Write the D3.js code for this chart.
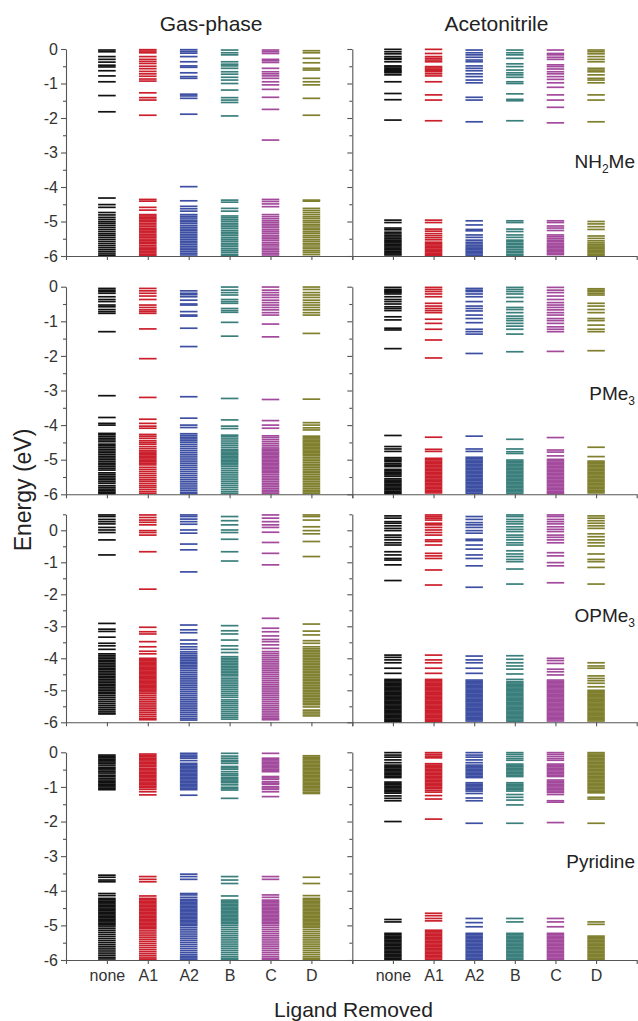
<!DOCTYPE html>
<html lang="en">
<head>
<meta charset="UTF-8">
<title>Energy levels by ligand removed</title>
<script src="https://d3js.org/d3.v7.min.js"></script>
<style>
    body { margin: 0; background: #fff; }
    svg { display: block; }
    text { font-family: "Liberation Sans", Arial, sans-serif; fill: #222; }
    .axis path, .axis line { stroke: #555; stroke-width: 1.1; }
    .axis text { font-size: 16px; fill: #333; }
</style>
</head>
<body>
<script>
// categories and series
const categories = ["none", "A1", "A2", "B", "C", "D"]
const lineColors = ["#111111", "#cc1f2c", "#3d4fa3", "#3a7f7c", "#a34a9d", "#7f7f2e"]
const phases = ["Gas-phase", "Acetonitrile"]
const ligands = [["NH", "2", "Me"], ["PMe", "3", ""], ["OPMe", "3", ""], ["Pyridine", "", ""]]
const yTops = [0, 0, 0.5, 0]

// energy levels (eV), one list per ligand removed: none, A1, A2, B, C, D
const gasNH2Me = [
    [-0.03,-0.08,-0.22,-0.30,-0.38,-0.47,-0.52,-0.63,-0.78,-0.95,-1.35,-1.82,
     -4.32,-4.51,-4.59,-4.74,-4.81,-4.88,-4.94,-5.00,-5.05,-5.11,-5.17,-5.23,-5.29,-5.35,-5.40,-5.46,-5.52,-5.58,-5.64,-5.70,-5.76,-5.82,-5.88,-5.94,-5.99],
    [-0.02,-0.06,-0.11,-0.22,-0.30,-0.36,-0.42,-0.50,-0.57,-0.65,-0.72,-0.79,-0.87,-0.93,-1.27,-1.41,-1.48,-1.92,
     -4.36,-4.41,-4.59,-4.67,-4.80,-4.84,-4.88,-4.92,-4.96,-5.00,-5.05,-5.10,-5.15,-5.20,-5.24,-5.28,-5.33,-5.38,-5.42,-5.46,-5.51,-5.56,-5.60,-5.64,-5.69,-5.74,-5.78,-5.82,-5.86,-5.91,-5.95,-5.99],
    [-0.02,-0.07,-0.12,-0.22,-0.37,-0.49,-0.53,-0.69,-0.80,-0.85,-1.31,-1.36,-1.43,-1.89,
     -3.99,-4.40,-4.56,-4.63,-4.70,-4.80,-4.85,-4.90,-4.96,-5.01,-5.06,-5.12,-5.17,-5.22,-5.27,-5.32,-5.37,-5.42,-5.47,-5.52,-5.57,-5.62,-5.67,-5.72,-5.77,-5.82,-5.87,-5.92,-5.97],
    [-0.03,-0.11,-0.17,-0.37,-0.44,-0.49,-0.56,-0.66,-0.73,-0.82,-0.90,-1.00,-1.19,-1.41,-1.48,-1.55,-1.94,
     -4.38,-4.44,-4.62,-4.70,-4.84,-4.89,-4.94,-4.99,-5.05,-5.10,-5.15,-5.20,-5.26,-5.31,-5.36,-5.41,-5.47,-5.52,-5.57,-5.63,-5.68,-5.73,-5.79,-5.84,-5.89,-5.95,-5.99],
    [-0.03,-0.08,-0.13,-0.30,-0.34,-0.39,-0.56,-0.66,-0.72,-0.78,-0.85,-0.95,-1.04,-1.17,-1.40,-1.75,-2.64,
     -4.36,-4.42,-4.49,-4.57,-4.80,-4.86,-4.92,-4.98,-5.03,-5.08,-5.13,-5.18,-5.24,-5.29,-5.34,-5.40,-5.45,-5.50,-5.55,-5.61,-5.66,-5.71,-5.77,-5.82,-5.87,-5.92,-5.97],
    [-0.05,-0.11,-0.27,-0.40,-0.56,-0.61,-0.85,-0.95,-1.04,-1.43,-1.92,
     -4.38,-4.41,-4.62,-4.68,-4.74,-4.80,-4.86,-4.91,-4.97,-5.02,-5.08,-5.13,-5.19,-5.24,-5.30,-5.35,-5.41,-5.46,-5.52,-5.57,-5.63,-5.68,-5.74,-5.79,-5.85,-5.90,-5.96]
]
const acnNH2Me = [
    [-0.01,-0.08,-0.14,-0.22,-0.27,-0.30,-0.37,-0.49,-0.52,-0.56,-0.60,-0.63,-0.66,-0.69,-0.75,-0.95,-1.29,-1.47,-2.06,
     -4.96,-5.03,-5.19,-5.24,-5.31,-5.36,-5.41,-5.45,-5.50,-5.54,-5.58,-5.62,-5.66,-5.70,-5.74,-5.78,-5.82,-5.86,-5.90,-5.94,-5.97],
    [-0.01,-0.13,-0.22,-0.27,-0.32,-0.37,-0.51,-0.55,-0.59,-0.62,-0.66,-0.72,-0.78,-0.95,-1.33,-1.48,-2.08,
     -4.96,-5.03,-5.22,-5.28,-5.35,-5.41,-5.47,-5.53,-5.60,-5.64,-5.68,-5.72,-5.76,-5.80,-5.84,-5.88,-5.92,-5.96,-5.99],
    [-0.03,-0.11,-0.17,-0.24,-0.32,-0.37,-0.49,-0.56,-0.63,-0.72,-0.80,-0.90,-0.98,-1.40,-1.48,-2.11,
     -4.98,-5.10,-5.23,-5.27,-5.39,-5.46,-5.54,-5.60,-5.65,-5.70,-5.74,-5.78,-5.82,-5.86,-5.90,-5.94,-5.98],
    [-0.03,-0.11,-0.17,-0.27,-0.43,-0.51,-0.61,-0.69,-0.75,-0.82,-0.95,-1.00,-1.30,-1.46,-1.50,-2.08,
     -4.98,-5.03,-5.22,-5.29,-5.39,-5.46,-5.54,-5.58,-5.63,-5.67,-5.72,-5.76,-5.81,-5.86,-5.90,-5.95,-5.98],
    [-0.03,-0.13,-0.17,-0.24,-0.30,-0.46,-0.51,-0.58,-0.66,-0.72,-0.80,-0.88,-0.98,-1.11,-1.33,-1.48,-1.69,-2.14,
     -4.98,-5.03,-5.13,-5.19,-5.26,-5.39,-5.44,-5.49,-5.54,-5.59,-5.64,-5.68,-5.72,-5.76,-5.80,-5.84,-5.88,-5.92,-5.96],
    [-0.03,-0.08,-0.14,-0.22,-0.30,-0.37,-0.56,-0.61,-0.66,-0.75,-0.85,-0.90,-0.98,-1.33,-1.48,-2.11,
     -5.00,-5.07,-5.15,-5.23,-5.42,-5.49,-5.56,-5.62,-5.67,-5.71,-5.75,-5.79,-5.83,-5.87,-5.91,-5.95,-5.99]
]
const gasPMe3 = [
    [-0.05,-0.10,-0.14,-0.19,-0.29,-0.37,-0.43,-0.53,-0.58,-0.66,-0.72,-0.77,-1.30,-3.15,-3.78,-3.95,-4.00,
     -4.24,-4.28,-4.33,-4.38,-4.43,-4.48,-4.55,-4.60,-4.65,-4.70,-4.75,-4.80,-4.85,-4.90,-4.95,-5.00,-5.05,-5.10,-5.15,-5.20,-5.25,-5.30,-5.38,-5.43,-5.48,-5.53,-5.58,-5.63,-5.68,-5.75,-5.80,-5.85,-5.90,-5.94,-5.98],
    [-0.05,-0.12,-0.19,-0.27,-0.37,-0.53,-0.60,-0.67,-0.72,-0.77,-1.22,-2.08,-3.20,-3.83,-3.95,-4.03,-4.09,
     -4.27,-4.32,-4.38,-4.45,-4.50,-4.55,-4.62,-4.68,-4.74,-4.78,-4.82,-4.86,-4.90,-4.94,-4.98,-5.02,-5.06,-5.10,-5.15,-5.22,-5.28,-5.34,-5.40,-5.46,-5.52,-5.58,-5.63,-5.69,-5.75,-5.80,-5.86,-5.92,-5.97],
    [-0.12,-0.19,-0.23,-0.29,-0.39,-0.50,-0.53,-0.72,-0.82,-0.85,-1.20,-1.73,-3.18,-3.80,-4.00,-4.07,
     -4.25,-4.30,-4.35,-4.40,-4.45,-4.50,-4.56,-4.62,-4.68,-4.74,-4.80,-4.86,-4.92,-4.98,-5.04,-5.10,-5.16,-5.22,-5.28,-5.34,-5.40,-5.46,-5.52,-5.58,-5.64,-5.70,-5.76,-5.82,-5.88,-5.94,-5.98],
    [-0.01,-0.10,-0.17,-0.24,-0.37,-0.43,-0.48,-0.63,-0.69,-0.74,-1.03,-1.43,-3.23,-3.85,-4.03,-4.10,
     -4.29,-4.34,-4.40,-4.46,-4.52,-4.58,-4.64,-4.70,-4.74,-4.78,-4.82,-4.86,-4.90,-4.94,-4.98,-5.02,-5.06,-5.10,-5.15,-5.20,-5.26,-5.32,-5.38,-5.44,-5.50,-5.56,-5.62,-5.68,-5.74,-5.80,-5.86,-5.92,-5.97],
    [-0.01,-0.10,-0.17,-0.24,-0.31,-0.39,-0.46,-0.53,-0.60,-0.67,-0.75,-0.82,-1.08,-1.45,-3.26,-3.87,-4.00,-4.09,
     -4.31,-4.36,-4.42,-4.48,-4.54,-4.60,-4.66,-4.70,-4.74,-4.78,-4.82,-4.86,-4.90,-4.94,-4.98,-5.02,-5.06,-5.10,-5.14,-5.18,-5.22,-5.26,-5.30,-5.34,-5.38,-5.43,-5.48,-5.53,-5.58,-5.63,-5.68,-5.73,-5.78,-5.83,-5.88,-5.93,-5.97],
    [-0.01,-0.08,-0.17,-0.24,-0.31,-0.39,-0.46,-0.53,-0.60,-0.67,-0.75,-0.82,-1.35,-3.25,-3.93,-4.00,-4.08,-4.14,
     -4.32,-4.36,-4.40,-4.44,-4.48,-4.52,-4.56,-4.60,-4.64,-4.68,-4.72,-4.76,-4.80,-4.84,-4.88,-4.93,-4.98,-5.03,-5.08,-5.13,-5.18,-5.23,-5.28,-5.33,-5.38,-5.43,-5.48,-5.53,-5.58,-5.63,-5.68,-5.73,-5.78,-5.83,-5.88,-5.93,-5.97]
]
const acnPMe3 = [
    [-0.02,-0.08,-0.11,-0.14,-0.17,-0.21,-0.29,-0.37,-0.43,-0.50,-0.58,-0.63,-0.69,-0.87,-0.96,-1.20,-1.25,-1.79,
     -4.30,-4.62,-4.69,-4.76,-4.94,-4.98,-5.02,-5.06,-5.12,-5.16,-5.20,-5.28,-5.32,-5.36,-5.40,-5.44,-5.48,-5.55,-5.59,-5.63,-5.67,-5.71,-5.75,-5.79,-5.83,-5.87,-5.91,-5.95,-5.98],
    [-0.02,-0.08,-0.14,-0.21,-0.29,-0.48,-0.56,-0.63,-0.69,-0.75,-0.94,-1.06,-1.23,-1.54,-2.06,
     -4.35,-4.70,-4.76,-4.96,-5.00,-5.04,-5.08,-5.12,-5.16,-5.20,-5.24,-5.28,-5.32,-5.36,-5.40,-5.44,-5.48,-5.52,-5.56,-5.60,-5.64,-5.68,-5.72,-5.76,-5.80,-5.84,-5.88,-5.92,-5.96],
    [-0.05,-0.10,-0.14,-0.21,-0.29,-0.43,-0.56,-0.63,-0.70,-0.82,-0.92,-1.04,-1.23,-1.30,-1.37,-1.93,
     -4.32,-4.69,-4.76,-4.93,-4.97,-5.01,-5.05,-5.09,-5.13,-5.17,-5.21,-5.25,-5.29,-5.33,-5.37,-5.41,-5.45,-5.49,-5.53,-5.57,-5.61,-5.65,-5.69,-5.73,-5.77,-5.81,-5.85,-5.89,-5.93,-5.97],
    [-0.02,-0.08,-0.14,-0.21,-0.31,-0.43,-0.60,-0.66,-0.75,-0.85,-0.92,-0.98,-1.06,-1.14,-1.23,-1.37,-1.88,
     -4.41,-4.69,-4.77,-4.82,-5.01,-5.05,-5.09,-5.13,-5.17,-5.21,-5.25,-5.29,-5.33,-5.37,-5.41,-5.45,-5.49,-5.53,-5.57,-5.61,-5.65,-5.69,-5.73,-5.77,-5.81,-5.85,-5.89,-5.93,-5.97],
    [-0.02,-0.10,-0.17,-0.27,-0.37,-0.46,-0.53,-0.60,-0.67,-0.75,-0.82,-0.92,-0.98,-1.06,-1.16,-1.23,-1.30,-1.87,
     -4.36,-4.72,-4.78,-4.89,-4.99,-5.03,-5.07,-5.11,-5.15,-5.19,-5.23,-5.27,-5.31,-5.35,-5.39,-5.43,-5.47,-5.51,-5.55,-5.59,-5.63,-5.67,-5.71,-5.75,-5.79,-5.83,-5.87,-5.91,-5.95,-5.98],
    [-0.06,-0.10,-0.14,-0.19,-0.24,-0.48,-0.56,-0.66,-0.75,-0.92,-0.98,-1.11,-1.23,-1.30,-1.85,
     -4.64,-4.91,-5.04,-5.08,-5.12,-5.16,-5.20,-5.24,-5.28,-5.32,-5.36,-5.40,-5.44,-5.48,-5.52,-5.56,-5.60,-5.64,-5.68,-5.72,-5.76,-5.80,-5.84,-5.88,-5.92,-5.96]
]
const gasOPMe3 = [
    [0.48,0.43,0.34,0.27,0.20,0.09,0.01,-0.07,-0.30,-0.77,-2.91,-3.09,-3.16,-3.34,-3.53,-3.61,-3.72,
     -3.86,-3.91,-3.96,-4.01,-4.06,-4.11,-4.16,-4.21,-4.26,-4.31,-4.36,-4.41,-4.46,-4.51,-4.56,-4.61,-4.66,-4.71,-4.76,-4.81,-4.86,-4.91,-4.96,-5.01,-5.06,-5.11,-5.17,-5.23,-5.29,-5.35,-5.41,-5.47,-5.53,-5.59,-5.65,-5.71,-5.74],
    [0.48,0.40,0.32,0.25,0.17,-0.01,-0.07,-0.15,-0.67,-1.84,-3.03,-3.17,-3.24,-3.48,-3.64,-3.78,-3.86,
     -4.00,-4.04,-4.08,-4.12,-4.16,-4.20,-4.24,-4.28,-4.32,-4.36,-4.40,-4.44,-4.48,-4.52,-4.56,-4.60,-4.64,-4.68,-4.72,-4.76,-4.80,-4.84,-4.88,-4.92,-4.96,-5.00,-5.05,-5.10,-5.16,-5.22,-5.28,-5.34,-5.40,-5.46,-5.52,-5.58,-5.64,-5.70,-5.76,-5.82,-5.88,-5.92],
    [0.48,0.43,0.35,0.27,0.19,0.01,-0.09,-0.43,-0.61,-1.30,-2.96,-3.11,-3.20,-3.43,-3.55,-3.64,-3.72,
     -3.80,-3.86,-3.92,-3.97,-4.02,-4.07,-4.12,-4.17,-4.22,-4.27,-4.32,-4.38,-4.44,-4.50,-4.56,-4.62,-4.68,-4.74,-4.80,-4.86,-4.92,-4.98,-5.04,-5.10,-5.16,-5.22,-5.28,-5.34,-5.40,-5.46,-5.52,-5.58,-5.64,-5.70,-5.76,-5.82,-5.88,-5.93],
    [0.43,0.30,0.17,0.01,-0.07,-0.28,-0.67,-0.96,-2.98,-3.14,-3.24,-3.43,-3.61,-3.72,-3.82,
     -3.95,-4.00,-4.05,-4.10,-4.15,-4.20,-4.25,-4.30,-4.35,-4.40,-4.45,-4.50,-4.55,-4.62,-4.68,-4.74,-4.80,-4.86,-4.92,-4.98,-5.04,-5.10,-5.16,-5.22,-5.30,-5.36,-5.42,-5.48,-5.54,-5.60,-5.66,-5.72,-5.78,-5.84,-5.90],
    [0.48,0.38,0.27,0.17,0.09,-0.06,-0.38,-0.72,-1.08,-2.75,-3.06,-3.17,-3.30,-3.41,-3.48,-3.58,-3.69,
     -3.79,-3.85,-3.91,-3.97,-4.03,-4.09,-4.15,-4.21,-4.27,-4.33,-4.39,-4.45,-4.51,-4.57,-4.63,-4.69,-4.75,-4.81,-4.87,-4.93,-4.99,-5.05,-5.11,-5.17,-5.23,-5.29,-5.35,-5.41,-5.47,-5.53,-5.59,-5.65,-5.71,-5.77,-5.83,-5.88,-5.92],
    [0.48,0.43,0.32,0.11,-0.01,-0.11,-0.35,-0.82,-2.93,-3.15,-3.27,-3.45,-3.53,-3.64,
     -3.70,-3.75,-3.80,-3.85,-3.90,-3.95,-4.00,-4.05,-4.10,-4.15,-4.20,-4.25,-4.30,-4.35,-4.40,-4.45,-4.50,-4.55,-4.60,-4.65,-4.70,-4.75,-4.80,-4.85,-4.90,-4.95,-5.00,-5.05,-5.10,-5.15,-5.20,-5.25,-5.30,-5.35,-5.40,-5.45,-5.52,-5.62,-5.68,-5.74,-5.80]
]
const acnOPMe3 = [
    [0.45,0.38,0.27,0.22,0.14,0.06,-0.01,-0.15,-0.22,-0.30,-0.39,-0.46,-0.67,-0.77,-0.88,-0.93,-1.08,-1.57,
     -3.90,-3.97,-4.05,-4.14,-4.31,-4.47,-4.66,-4.70,-4.74,-4.78,-4.82,-4.86,-4.90,-4.94,-4.98,-5.02,-5.06,-5.10,-5.14,-5.18,-5.22,-5.26,-5.30,-5.34,-5.38,-5.42,-5.46,-5.50,-5.54,-5.58,-5.62,-5.66,-5.70,-5.74,-5.78,-5.82,-5.86,-5.90,-5.94,-5.98],
    [0.48,0.43,0.38,0.32,0.22,0.17,0.09,0.01,-0.07,-0.15,-0.30,-0.35,-0.46,-0.72,-0.80,-0.88,-1.24,-1.71,
     -3.90,-4.05,-4.14,-4.31,-4.47,-4.66,-4.70,-4.74,-4.78,-4.82,-4.86,-4.90,-4.94,-4.98,-5.02,-5.06,-5.10,-5.14,-5.18,-5.22,-5.26,-5.30,-5.34,-5.38,-5.42,-5.46,-5.50,-5.54,-5.58,-5.62,-5.66,-5.70,-5.74,-5.78,-5.82,-5.86,-5.90,-5.94,-5.98],
    [0.43,0.34,0.24,0.17,0.09,-0.01,-0.09,-0.28,-0.32,-0.46,-0.59,-0.77,-0.88,-1.11,-1.78,
     -3.93,-4.05,-4.14,-4.31,-4.47,-4.68,-4.72,-4.76,-4.80,-4.84,-4.88,-4.92,-4.96,-5.00,-5.04,-5.08,-5.12,-5.16,-5.20,-5.24,-5.28,-5.32,-5.36,-5.40,-5.44,-5.48,-5.52,-5.56,-5.60,-5.64,-5.68,-5.72,-5.76,-5.80,-5.84,-5.88,-5.92,-5.96],
    [0.48,0.43,0.34,0.27,0.20,0.11,0.03,-0.04,-0.15,-0.22,-0.30,-0.39,-0.46,-0.64,-0.74,-0.82,-0.91,-0.98,-1.21,-1.68,
     -3.92,-4.03,-4.14,-4.24,-4.34,-4.49,-4.66,-4.73,-4.77,-4.81,-4.85,-4.89,-4.93,-4.97,-5.01,-5.05,-5.09,-5.13,-5.17,-5.21,-5.25,-5.29,-5.33,-5.37,-5.41,-5.45,-5.49,-5.53,-5.57,-5.61,-5.65,-5.69,-5.73,-5.77,-5.81,-5.85,-5.89,-5.93,-5.97],
    [0.48,0.43,0.34,0.27,0.20,0.11,0.03,-0.04,-0.15,-0.22,-0.30,-0.39,-0.70,-0.80,-1.01,-1.11,-1.64,
     -4.00,-4.07,-4.16,-4.34,-4.42,-4.52,-4.68,-4.72,-4.76,-4.80,-4.84,-4.88,-4.92,-4.96,-5.00,-5.04,-5.08,-5.12,-5.16,-5.20,-5.24,-5.28,-5.32,-5.36,-5.40,-5.44,-5.48,-5.52,-5.56,-5.60,-5.64,-5.68,-5.72,-5.76,-5.80,-5.84,-5.88,-5.92,-5.96],
    [0.45,0.38,0.30,0.22,0.14,0.06,-0.11,-0.20,-0.30,-0.39,-0.49,-0.74,-0.91,-0.98,-1.16,-1.68,
     -4.14,-4.24,-4.31,-4.55,-4.63,-4.70,-4.78,-4.89,-5.00,-5.04,-5.08,-5.12,-5.16,-5.20,-5.24,-5.28,-5.32,-5.36,-5.40,-5.44,-5.48,-5.52,-5.56,-5.60,-5.64,-5.68,-5.72,-5.76,-5.80,-5.84,-5.88,-5.92,-5.96]
]
const gasPyridine = [
    [-0.08,-0.12,-0.16,-0.20,-0.24,-0.28,-0.32,-0.37,-0.43,-0.47,-0.51,-0.56,-0.60,-0.66,-0.70,-0.75,-0.80,-0.84,-0.88,-0.92,-0.96,-1.00,-1.04,-1.08,
     -3.55,-3.61,-3.69,-3.74,-4.08,-4.14,-4.22,-4.26,-4.30,-4.34,-4.38,-4.42,-4.46,-4.50,-4.54,-4.58,-4.62,-4.66,-4.70,-4.74,-4.78,-4.82,-4.86,-4.90,-4.94,-4.98,-5.02,-5.08,-5.14,-5.20,-5.26,-5.32,-5.38,-5.44,-5.50,-5.56,-5.62,-5.68,-5.74,-5.80,-5.86,-5.92,-5.97],
    [-0.05,-0.09,-0.13,-0.17,-0.21,-0.25,-0.29,-0.33,-0.37,-0.41,-0.46,-0.50,-0.54,-0.58,-0.62,-0.66,-0.70,-0.74,-0.78,-0.82,-0.86,-0.90,-0.94,-0.98,-1.02,-1.07,-1.14,-1.23,
     -3.59,-3.67,-3.74,-4.15,-4.22,-4.26,-4.30,-4.34,-4.38,-4.42,-4.46,-4.50,-4.54,-4.58,-4.62,-4.66,-4.70,-4.74,-4.78,-4.82,-4.86,-4.90,-4.94,-4.98,-5.02,-5.06,-5.10,-5.16,-5.22,-5.28,-5.34,-5.40,-5.46,-5.52,-5.58,-5.64,-5.70,-5.76,-5.82,-5.88,-5.94,-5.98],
    [-0.03,-0.08,-0.13,-0.17,-0.24,-0.32,-0.36,-0.40,-0.44,-0.48,-0.52,-0.56,-0.60,-0.64,-0.68,-0.72,-0.76,-0.80,-0.84,-0.88,-0.92,-0.96,-1.00,-1.04,-1.08,-1.24,
     -3.52,-3.59,-3.67,-4.08,-4.12,-4.19,-4.25,-4.29,-4.33,-4.37,-4.41,-4.45,-4.49,-4.53,-4.57,-4.61,-4.65,-4.69,-4.73,-4.77,-4.81,-4.85,-4.89,-4.93,-4.97,-5.01,-5.07,-5.13,-5.19,-5.25,-5.31,-5.37,-5.43,-5.49,-5.55,-5.61,-5.67,-5.73,-5.79,-5.85,-5.90,-5.94,-5.98],
    [-0.03,-0.11,-0.17,-0.23,-0.27,-0.32,-0.41,-0.45,-0.49,-0.56,-0.62,-0.66,-0.72,-0.76,-0.80,-0.84,-0.88,-0.94,-1.01,-1.05,-1.09,-1.33,
     -3.59,-3.69,-3.79,-4.15,-4.27,-4.31,-4.35,-4.39,-4.43,-4.47,-4.51,-4.55,-4.59,-4.63,-4.67,-4.71,-4.75,-4.79,-4.83,-4.87,-4.91,-4.95,-5.00,-5.06,-5.12,-5.18,-5.24,-5.30,-5.36,-5.42,-5.48,-5.54,-5.60,-5.66,-5.72,-5.78,-5.84,-5.90,-5.95,-5.99],
    [-0.03,-0.17,-0.21,-0.25,-0.29,-0.33,-0.37,-0.41,-0.45,-0.49,-0.53,-0.56,-0.70,-0.74,-0.78,-0.85,-0.89,-0.92,-0.99,-1.03,-1.07,-1.14,-1.28,
     -3.59,-3.67,-4.12,-4.19,-4.27,-4.31,-4.35,-4.39,-4.43,-4.47,-4.51,-4.55,-4.59,-4.63,-4.67,-4.71,-4.75,-4.79,-4.83,-4.87,-4.91,-4.95,-5.00,-5.06,-5.12,-5.18,-5.24,-5.30,-5.36,-5.42,-5.48,-5.54,-5.60,-5.66,-5.72,-5.78,-5.84,-5.90,-5.95,-5.99],
    [-0.10,-0.14,-0.18,-0.22,-0.26,-0.30,-0.34,-0.38,-0.42,-0.46,-0.50,-0.54,-0.58,-0.62,-0.66,-0.70,-0.74,-0.78,-0.82,-0.86,-0.90,-0.94,-0.98,-1.02,-1.06,-1.10,-1.15,-1.19,
     -3.61,-3.79,-4.14,-4.22,-4.26,-4.30,-4.34,-4.38,-4.42,-4.46,-4.50,-4.54,-4.58,-4.62,-4.66,-4.70,-4.74,-4.78,-4.82,-4.86,-4.90,-4.94,-4.98,-5.02,-5.06,-5.12,-5.18,-5.24,-5.30,-5.36,-5.42,-5.48,-5.54,-5.60,-5.66,-5.72,-5.78,-5.84,-5.90,-5.95,-5.99]
]
const acnPyridine = [
    [-0.01,-0.08,-0.14,-0.22,-0.30,-0.37,-0.41,-0.45,-0.49,-0.53,-0.57,-0.61,-0.65,-0.69,-0.73,-0.86,-0.90,-0.94,-0.98,-1.02,-1.06,-1.10,-1.14,-1.18,-1.26,-1.33,-1.40,-2.00,
     -4.83,-4.90,-5.23,-5.27,-5.31,-5.35,-5.39,-5.43,-5.47,-5.51,-5.55,-5.59,-5.63,-5.67,-5.71,-5.75,-5.79,-5.83,-5.87,-5.91,-5.95,-5.99],
    [-0.01,-0.06,-0.11,-0.16,-0.33,-0.37,-0.41,-0.45,-0.49,-0.53,-0.57,-0.61,-0.65,-0.69,-0.73,-0.77,-0.81,-0.85,-0.89,-0.93,-0.97,-1.01,-1.05,-1.10,-1.15,-1.25,-1.35,-1.93,
     -4.65,-4.72,-4.80,-4.87,-5.14,-5.18,-5.22,-5.26,-5.30,-5.34,-5.38,-5.42,-5.46,-5.50,-5.54,-5.58,-5.62,-5.66,-5.70,-5.74,-5.78,-5.82,-5.86,-5.90,-5.94,-5.98],
    [-0.01,-0.08,-0.14,-0.22,-0.30,-0.37,-0.41,-0.45,-0.49,-0.53,-0.57,-0.61,-0.65,-0.69,-0.73,-0.88,-0.92,-0.96,-1.00,-1.04,-1.08,-1.12,-1.19,-1.32,-1.40,-2.05,
     -4.80,-4.92,-5.04,-5.23,-5.27,-5.31,-5.35,-5.39,-5.43,-5.47,-5.51,-5.55,-5.59,-5.63,-5.67,-5.71,-5.75,-5.79,-5.83,-5.87,-5.91,-5.95,-5.99],
    [-0.01,-0.06,-0.12,-0.18,-0.23,-0.34,-0.38,-0.42,-0.46,-0.50,-0.54,-0.58,-0.62,-0.66,-0.70,-0.88,-0.92,-0.96,-1.00,-1.04,-1.08,-1.12,-1.22,-1.30,-1.38,-1.52,-2.05,
     -4.80,-4.90,-5.23,-5.27,-5.31,-5.35,-5.39,-5.43,-5.47,-5.51,-5.55,-5.59,-5.63,-5.67,-5.71,-5.75,-5.79,-5.83,-5.87,-5.91,-5.95,-5.99],
    [-0.01,-0.06,-0.12,-0.18,-0.23,-0.34,-0.38,-0.42,-0.46,-0.50,-0.54,-0.58,-0.62,-0.66,-0.70,-0.80,-0.84,-0.88,-0.92,-0.96,-1.00,-1.04,-1.08,-1.12,-1.16,-1.22,-1.40,-1.44,-2.03,
     -4.80,-4.90,-5.04,-5.23,-5.27,-5.31,-5.35,-5.39,-5.43,-5.47,-5.51,-5.55,-5.59,-5.63,-5.67,-5.71,-5.75,-5.79,-5.83,-5.87,-5.91,-5.95,-5.99],
    [-0.01,-0.05,-0.09,-0.13,-0.17,-0.21,-0.25,-0.29,-0.33,-0.37,-0.41,-0.45,-0.49,-0.53,-0.57,-0.61,-0.65,-0.69,-0.73,-0.77,-0.81,-0.85,-0.89,-0.93,-0.97,-1.01,-1.05,-1.09,-1.13,-1.17,-1.30,-1.35,-2.05,
     -4.90,-4.97,-5.31,-5.35,-5.39,-5.43,-5.47,-5.51,-5.55,-5.59,-5.63,-5.67,-5.71,-5.75,-5.79,-5.83,-5.87,-5.91,-5.95,-5.99]
]

const panelLevels = [
    [gasNH2Me, acnNH2Me],
    [gasPMe3, acnPMe3],
    [gasOPMe3, acnOPMe3],
    [gasPyridine, acnPyridine]
]

// layout
const width = 638
const height = 1021
const colX = [[66, 352.3], [352.3, 636.7]]
const rowY = [[49, 256], [286.7, 494.3], [514.3, 722.3], [752.3, 960]]
const labelE = [-3.45, -3.27, -2.86, -3.34]
const halfW = 0.215

const svg = d3.select("body").append("svg")
    .attr("width", width)
    .attr("height", height)

panelLevels.forEach((rowLevels, r) => {
    rowLevels.forEach((levels, c) => {
        const x = d3.scaleLinear().domain([0, 7]).range(colX[c])
        const y = d3.scaleLinear().domain([-6, yTops[r]]).range([rowY[r][1], rowY[r][0]])
        const g = svg.append("g")

        levels.forEach((vals, i) => {
            g.append("g").selectAll("line")
                .data(vals)
                .join("line")
                .attr("x1", x(i + 1 - halfW))
                .attr("x2", x(i + 1 + halfW))
                .attr("y1", d => y(d))
                .attr("y2", d => y(d))
                .attr("stroke", lineColors[i])
                .attr("stroke-width", 1.7)
        })

        // minor ticks
        const halves = d3.range(-5.5, yTops[r] + 0.01, 1)
        g.append("g")
            .attr("class", "axis")
            .attr("transform", `translate(${colX[c][0]},0)`)
            .call(d3.axisLeft(y).tickValues(halves).tickSize(3).tickFormat(""))
            .call(a => a.select(".domain").remove())

        // major ticks
        g.append("g")
            .attr("class", "axis")
            .attr("transform", `translate(${colX[c][0]},0)`)
            .call(d3.axisLeft(y).tickValues(d3.range(-6, 0.01, 1)).tickSize(5).tickSizeOuter(0).tickPadding(3)
                .tickFormat(d => c === 0 ? String(d) : ""))

        g.append("g")
            .attr("class", "axis")
            .attr("transform", `translate(0,${rowY[r][1]})`)
            .call(d3.axisBottom(x).tickValues(d3.range(0, 8)).tickSize(4).tickSizeOuter(0).tickPadding(6)
                .tickFormat(d => (r === 3 && d >= 1 && d <= 6) ? categories[d - 1] : ""))

        if (c === 1) {
            const lab = ligands[r]
            const t = svg.append("text")
                .attr("x", 635)
                .attr("y", y(labelE[r]))
                .attr("text-anchor", "end")
                .style("font-size", "19px")
            t.append("tspan").text(lab[0])
            if (lab[1]) {
                t.append("tspan").attr("dy", 5).style("font-size", "12px").text(lab[1])
                if (lab[2]) t.append("tspan").attr("dy", -5).text(lab[2])
            }
        }
    })
})

// column titles
phases.forEach((p, c) => {
    svg.append("text")
        .attr("x", (colX[c][0] + colX[c][1]) / 2 + 2)
        .attr("y", 31)
        .attr("text-anchor", "middle")
        .style("font-size", "21px")
        .text(p)
})

svg.append("text")
    .attr("transform", "translate(31,490) rotate(-90)")
    .attr("text-anchor", "middle")
    .style("font-size", "23px")
    .text("Energy (eV)")

svg.append("text")
    .attr("x", 353.5)
    .attr("y", 1017)
    .attr("text-anchor", "middle")
    .style("font-size", "21px")
    .text("Ligand Removed")
</script>
</body>
</html>
